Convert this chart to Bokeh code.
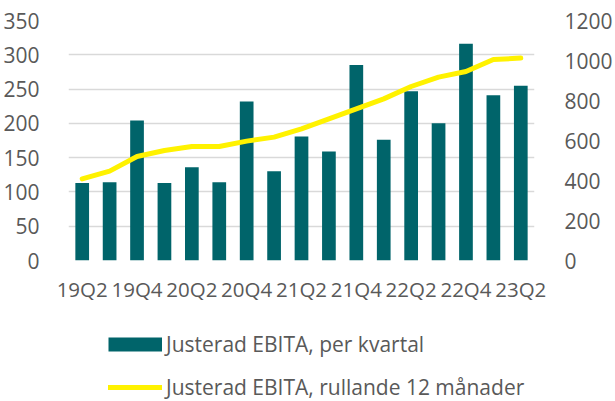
from bokeh.plotting import figure
from bokeh.layouts import column
from bokeh.models import (Range1d, LinearAxis, FixedTicker, Legend, LegendItem,
                          ColumnDataSource)
from bokeh.embed import file_html
from bokeh.resources import INLINE

quarters = ["19Q2", "19Q3", "19Q4", "20Q1", "20Q2", "20Q3", "20Q4", "21Q1", "21Q2",
            "21Q3", "21Q4", "22Q1", "22Q2", "22Q3", "22Q4", "23Q1", "23Q2"]
ebita_quarter = [113, 114, 204, 113, 136, 114, 232, 130, 181,
                 159, 285, 176, 247, 200, 316, 241, 255]
ebita_rolling = [408, 447, 520, 550, 570, 570, 597, 617, 658,
                 708, 758, 808, 870, 917, 945, 1005, 1012]
left_ticks = [0, 50, 100, 150, 200, 250, 300, 350]
right_ticks = [0, 200, 400, 600, 800, 1000, 1200]
legend_labels = ["Justerad EBITA, per kvartal", "Justerad EBITA, rullande 12 månader"]

TEAL = "#00646A"
YELLOW = "#FFF200"
GREY_TXT = "#595959"
FONT = "Open Sans"
FS = "21px"
FS_X = "20.5px"

idx = list(range(len(quarters)))
src = ColumnDataSource(dict(x=idx, q=quarters, bar=ebita_quarter, roll=ebita_rolling))

p = figure(width=615, height=305, output_backend="svg", toolbar_location=None,
           x_range=Range1d(-0.5, len(quarters) - 0.5), y_range=Range1d(0, 350),
           min_border_left=66, min_border_right=72, min_border_top=20,
           min_border_bottom=45)
p.outline_line_color = None
p.background_fill_color = "white"
p.border_fill_color = "white"

p.extra_y_ranges = {"right": Range1d(0, 1200)}

p.vbar(x="x", top="bar", width=0.5, source=src, fill_color=TEAL, line_color=None)
p.line(x="x", y="roll", source=src, y_range_name="right",
       line_color=YELLOW, line_width=5, line_join="round", line_cap="round")

p.xaxis.ticker = FixedTicker(ticks=idx[::2])
p.xaxis.major_label_overrides = {i: quarters[i] for i in idx[::2]}
p.yaxis.ticker = FixedTicker(ticks=left_ticks)

ra = LinearAxis(y_range_name="right", ticker=FixedTicker(ticks=right_ticks))
p.add_layout(ra, "right")

for ax in [p.xaxis[0], p.yaxis[0], ra]:
    ax.axis_line_color = None
    ax.major_tick_line_color = None
    ax.minor_tick_line_color = None
    ax.major_label_text_color = GREY_TXT
    ax.major_label_text_font = FONT
    ax.major_label_text_font_size = FS
p.xaxis.major_label_text_font_size = FS_X
p.xaxis.major_label_standoff = 8
p.yaxis[0].major_label_standoff = 23
ra.major_label_standoff = 24

p.xgrid.grid_line_color = None
p.ygrid.grid_line_color = "#D9D9D9"
p.ygrid.grid_line_width = 1.3
p.ygrid.ticker = FixedTicker(ticks=left_ticks)

# legend in its own strip below the chart (swatch renderers lie outside the visible range)
lg = figure(width=615, height=96, output_backend="svg", toolbar_location=None,
            x_axis_type=None, y_axis_type=None, min_border=0,
            x_range=Range1d(0, 1), y_range=Range1d(0, 1))
lg.outline_line_color = None
lg.xgrid.grid_line_color = None
lg.ygrid.grid_line_color = None
hidden = dict(x=[-5, -4], y=[-5, -5])
sw_bar = lg.line(x=hidden["x"], y=hidden["y"], line_color=TEAL, line_width=14, line_cap="butt")
sw_line = lg.line(x=hidden["x"], y=hidden["y"], line_color=YELLOW, line_width=5, line_cap="round")

legend = Legend(items=[
    LegendItem(label=legend_labels[0], renderers=[sw_bar]),
    LegendItem(label=legend_labels[1], renderers=[sw_line]),
], location=(40, 0))
legend.orientation = "vertical"
legend.border_line_color = None
legend.background_fill_alpha = 0
legend.padding = 0
legend.margin = 0
legend.spacing = 15
legend.glyph_width = 54
legend.glyph_height = 20
legend.label_height = 20
legend.label_standoff = 4
legend.label_text_font = FONT
legend.label_text_font_size = FS
legend.label_text_color = GREY_TXT
lg.add_layout(legend, "center")

layout = column(p, lg, spacing=0)
open("out.html", "w").write(file_html(layout, INLINE))
